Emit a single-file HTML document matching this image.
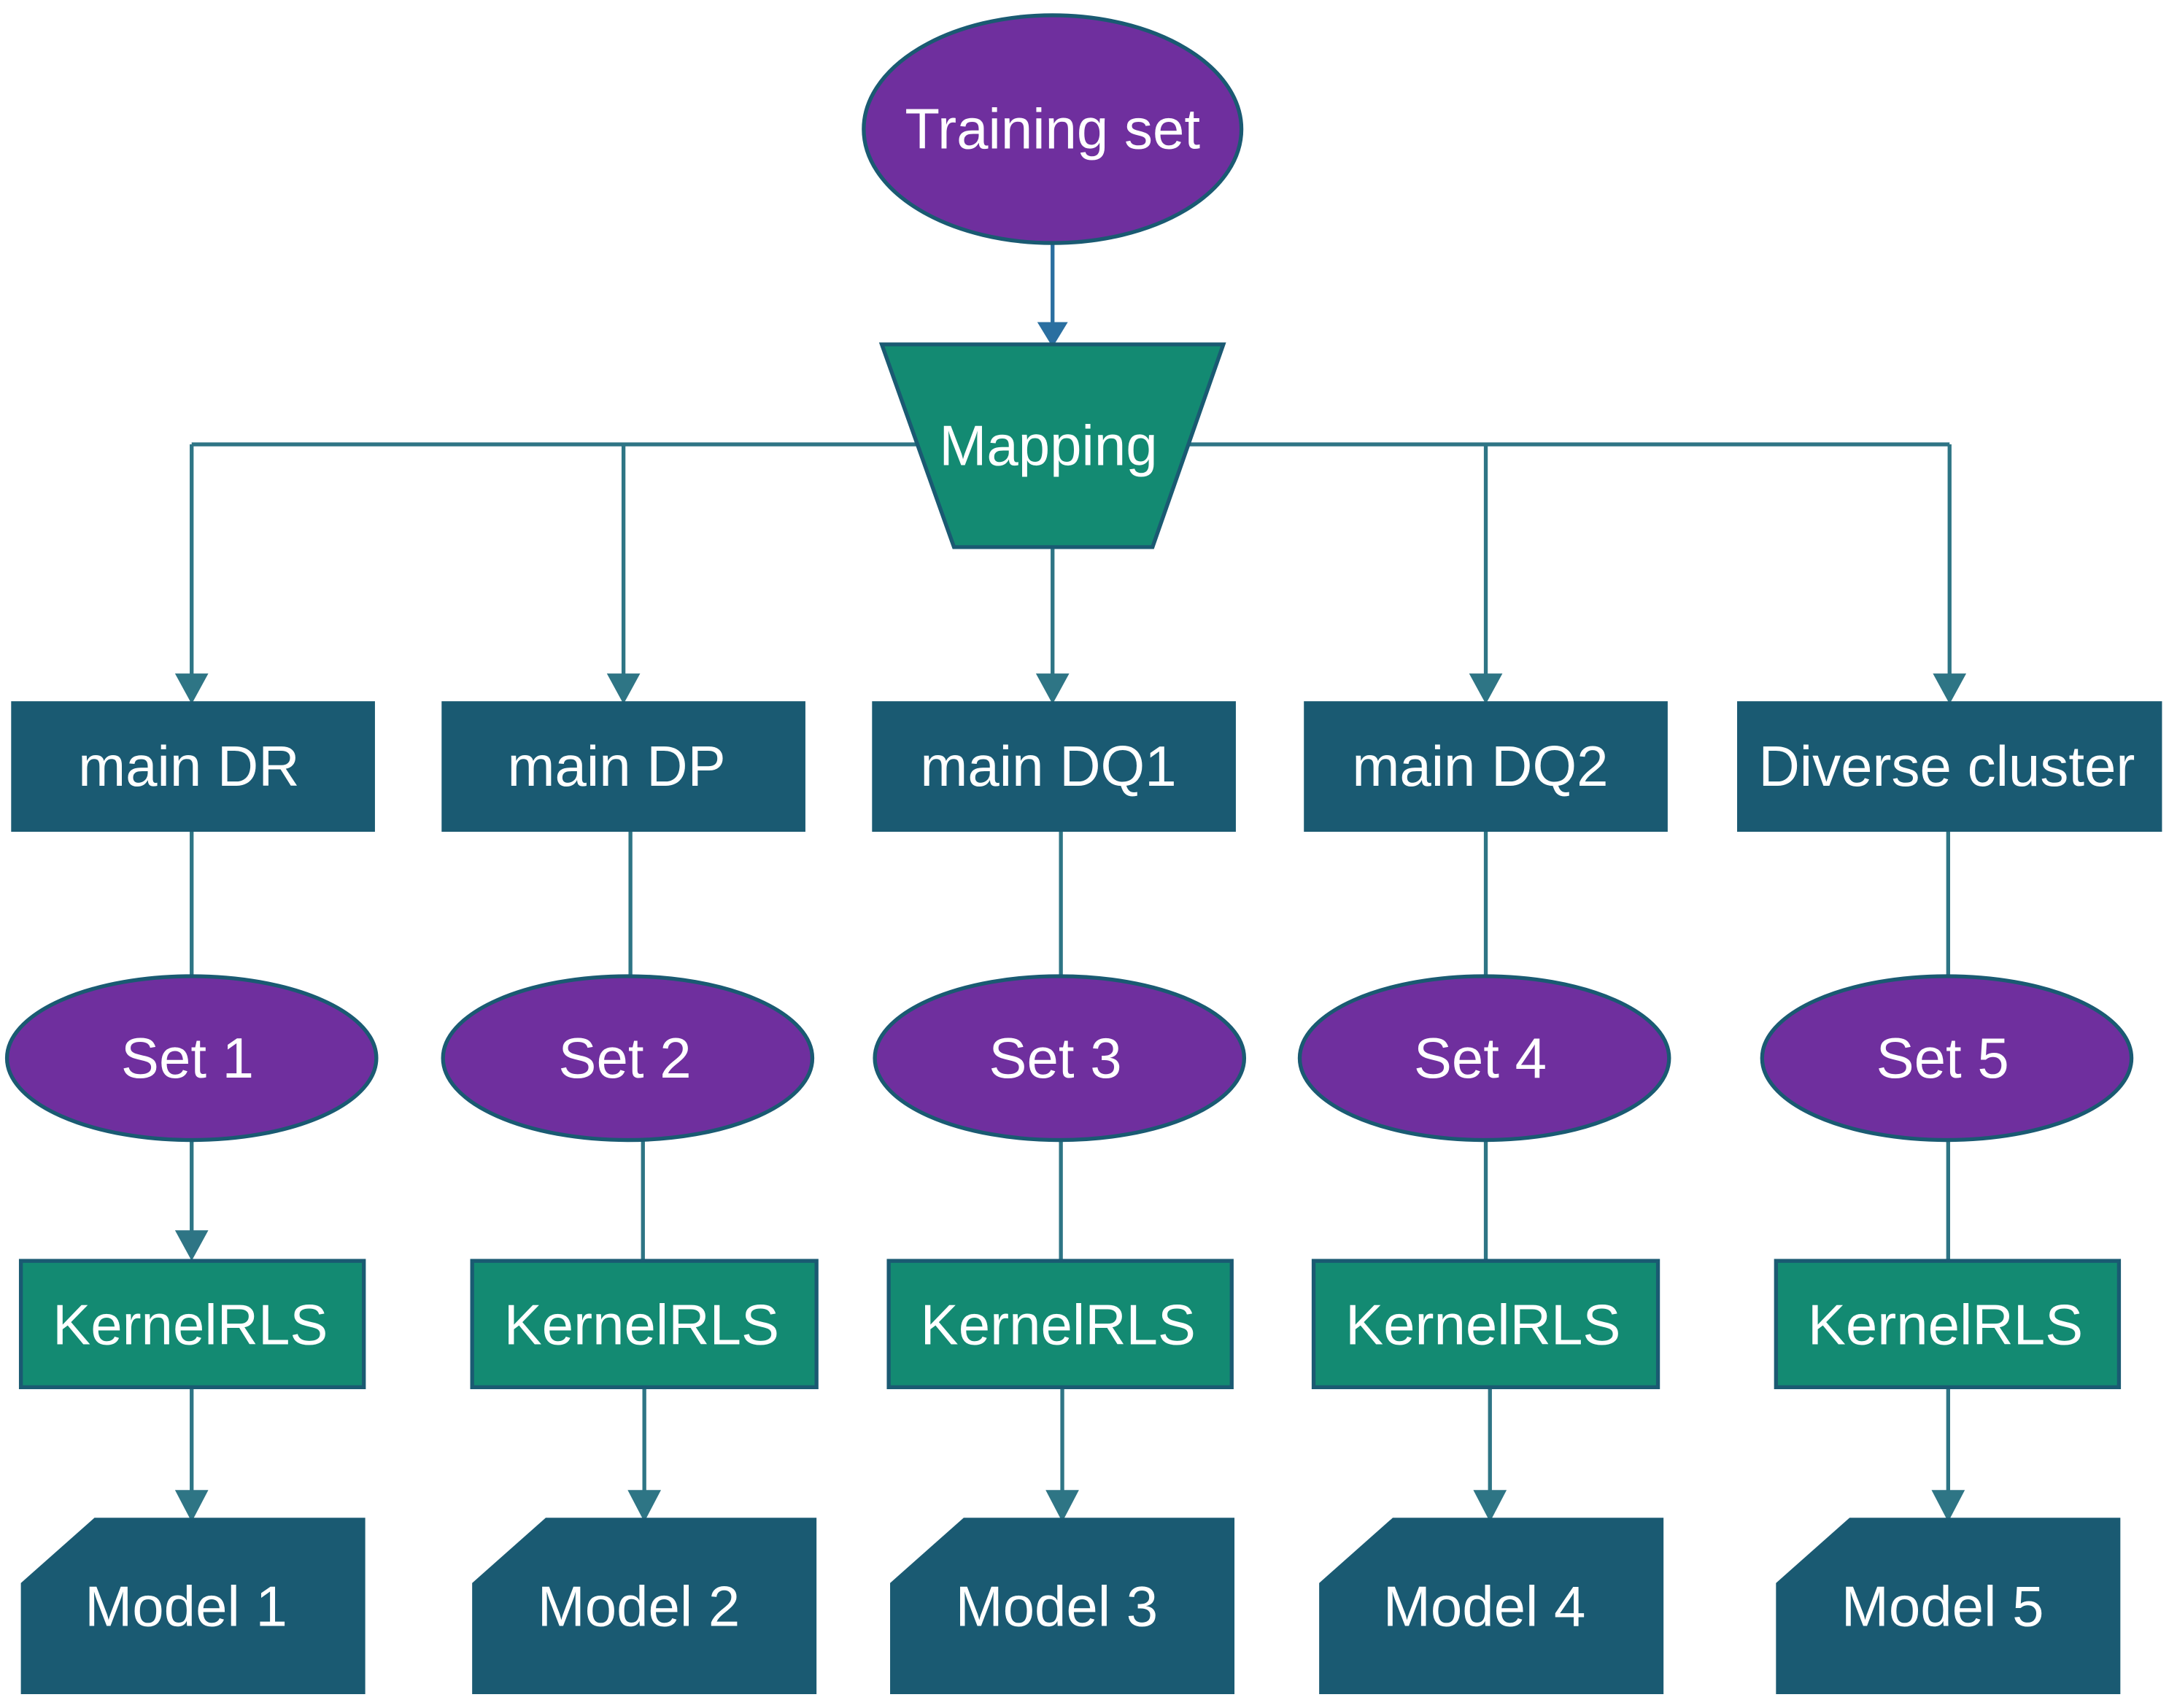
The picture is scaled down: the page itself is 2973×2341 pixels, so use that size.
<!DOCTYPE html>
<html><head><style>html,body{margin:0;padding:0;background:#fff}svg{display:block}</style></head>
<body>
<svg width="2973" height="2341" viewBox="0 0 1562 1230" xmlns="http://www.w3.org/2000/svg" font-family="Liberation Sans, Arial, sans-serif">
<g stroke="#2e7585" stroke-width="2.8" fill="none">
<line x1="758" y1="175" x2="758" y2="246" stroke="#2a6fa0"/>
<line x1="138" y1="320" x2="1404" y2="320"/>
<line x1="138" y1="320" x2="138" y2="490"/>
<line x1="449" y1="320" x2="449" y2="490"/>
<line x1="758" y1="394" x2="758" y2="490"/>
<line x1="1070" y1="320" x2="1070" y2="490"/>
<line x1="1404" y1="320" x2="1404" y2="490"/>
<line x1="138" y1="599" x2="138" y2="703"/>
<line x1="454" y1="599" x2="454" y2="703"/>
<line x1="764" y1="599" x2="764" y2="703"/>
<line x1="1070" y1="599" x2="1070" y2="703"/>
<line x1="1403" y1="599" x2="1403" y2="703"/>
<line x1="138" y1="822" x2="138" y2="895"/>
<line x1="463" y1="822" x2="463" y2="908"/>
<line x1="764" y1="822" x2="764" y2="908"/>
<line x1="1070" y1="822" x2="1070" y2="908"/>
<line x1="1403" y1="822" x2="1403" y2="908"/>
<line x1="138" y1="999" x2="138" y2="1080"/>
<line x1="464" y1="999" x2="464" y2="1080"/>
<line x1="765" y1="999" x2="765" y2="1080"/>
<line x1="1073" y1="999" x2="1073" y2="1080"/>
<line x1="1403" y1="999" x2="1403" y2="1080"/>
</g>
<g fill="#2e7585">
<path d="M747,232 L769,232 L758,250 Z" fill="#2a6fa0"/>
<path d="M126,485 L150,485 L138,507 Z"/>
<path d="M437,485 L461,485 L449,507 Z"/>
<path d="M746,485 L770,485 L758,507 Z"/>
<path d="M1058,485 L1082,485 L1070,507 Z"/>
<path d="M1392,485 L1416,485 L1404,507 Z"/>
<path d="M126,886 L150,886 L138,908 Z"/>
<path d="M126,1073 L150,1073 L138,1096 Z"/>
<path d="M452,1073 L476,1073 L464,1096 Z"/>
<path d="M753,1073 L777,1073 L765,1096 Z"/>
<path d="M1061,1073 L1085,1073 L1073,1096 Z"/>
<path d="M1391,1073 L1415,1073 L1403,1096 Z"/>
</g>
<g stroke="#1a5a72" stroke-width="2.8">
<ellipse cx="758" cy="93" rx="136" ry="82" fill="#6f2f9e"/>
<path d="M635,248 L881,248 L830,394 L687,394 Z" fill="#138a72"/>
<g fill="#6f2f9e">
<ellipse cx="138" cy="762" rx="133" ry="59"/>
<ellipse cx="452" cy="762" rx="133" ry="59"/>
<ellipse cx="763" cy="762" rx="133" ry="59"/>
<ellipse cx="1069" cy="762" rx="133" ry="59"/>
<ellipse cx="1402" cy="762" rx="133" ry="59"/>
</g>
<g fill="#138a72">
<rect x="15" y="908" width="247" height="91"/>
<rect x="340" y="908" width="248" height="91"/>
<rect x="640" y="908" width="247" height="91"/>
<rect x="946" y="908" width="248" height="91"/>
<rect x="1279" y="908" width="247" height="91"/>
</g>
</g>
<g fill="#1a5a72">
<rect x="8" y="505" width="262" height="94"/>
<rect x="318" y="505" width="262" height="94"/>
<rect x="628" y="505" width="262" height="94"/>
<rect x="939" y="505" width="262" height="94"/>
<rect x="1251" y="505" width="306" height="94"/>
<path d="M15,1140 L68,1093 L263,1093 L263,1220 L15,1220 Z"/>
<path d="M340,1140 L393,1093 L588,1093 L588,1220 L340,1220 Z"/>
<path d="M641,1140 L694,1093 L889,1093 L889,1220 L641,1220 Z"/>
<path d="M950,1140 L1003,1093 L1198,1093 L1198,1220 L950,1220 Z"/>
<path d="M1279,1140 L1332,1093 L1527,1093 L1527,1220 L1279,1220 Z"/>
</g>
<g fill="#fff" font-size="41" text-anchor="middle">
<text x="758" y="107">Training set</text>
<text x="755" y="335">Mapping</text>
<text x="136" y="566">main DR</text>
<text x="444" y="566">main DP</text>
<text x="755" y="566">main DQ1</text>
<text x="1066" y="566">main DQ2</text>
<text x="1402" y="566">Diverse cluster</text>
<text x="135" y="776">Set 1</text>
<text x="450" y="776">Set 2</text>
<text x="760" y="776">Set 3</text>
<text x="1066" y="776">Set 4</text>
<text x="1399" y="776">Set 5</text>
<text x="137" y="968">KernelRLS</text>
<text x="462" y="968">KernelRLS</text>
<text x="762" y="968">KernelRLS</text>
<text x="1068" y="968">KernelRLS</text>
<text x="1401" y="968">KernelRLS</text>
<text x="134" y="1171">Model 1</text>
<text x="460" y="1171">Model 2</text>
<text x="761" y="1171">Model 3</text>
<text x="1069" y="1171">Model 4</text>
<text x="1399" y="1171">Model 5</text>
</g>
</svg>
</body></html>
